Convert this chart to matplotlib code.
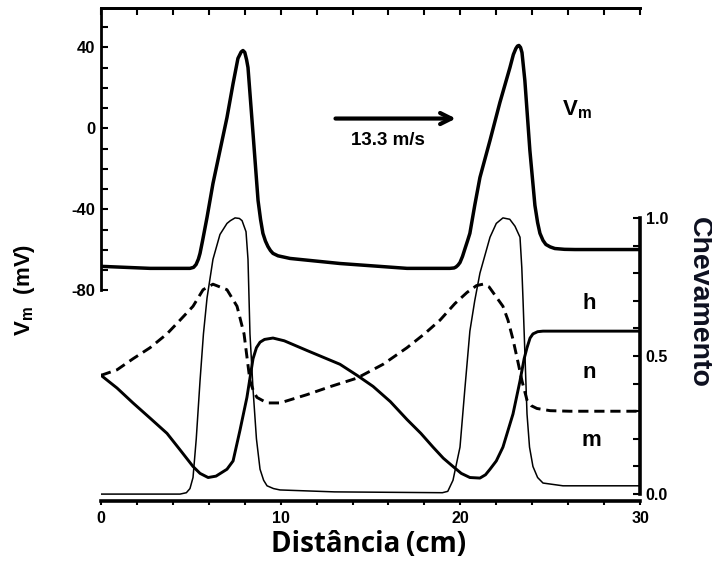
import matplotlib
matplotlib.use("Agg")
import matplotlib.pyplot as plt
import numpy as np
from matplotlib.ticker import FixedLocator, NullFormatter

plt.rcParams["font.family"] = ["Liberation Sans", "DejaVu Sans"]
plt.rcParams["font.weight"] = "bold"

# Membrane potential along the axon (cm, mV)
vm_x = [0.00, 2.73, 4.95, 5.15, 5.29, 5.42, 5.51, 5.65, 5.90, 6.23, 6.62, 7.01, 7.35,
        7.62, 7.80, 7.90, 8.00, 8.10, 8.18, 8.46, 8.74, 8.88, 9.01, 9.15, 9.29, 9.43,
        9.57, 9.85, 10.52, 13.30, 17.03, 19.42, 19.65, 19.76, 19.87, 19.98, 20.12,
        20.26, 20.40, 20.53, 20.80, 21.09, 21.65, 22.20, 22.76, 22.95, 23.09, 23.18,
        23.26, 23.35, 23.43, 23.59, 23.87, 24.15, 24.30, 24.43, 24.60, 24.76, 25.00,
        25.26, 25.80, 26.38, 30.00]
vm_y = [-68.1, -69.1, -69.1, -68.6, -67.2, -64.5, -61.7, -55.5, -43.9, -27.2, -10.9,
        5.4, 22.2, 34.6, 37.8, 38.5, 37.6, 34.0, 30.1, -2.5, -35.6, -45.0, -51.8,
        -55.6, -58.3, -60.3, -61.7, -62.9, -64.2, -66.7, -69.1, -69.1, -68.9, -68.4,
        -67.5, -66.2, -63.2, -59.3, -55.5, -51.8, -38.0, -24.2, -5.9, 12.8, 30.1,
        36.5, 39.5, 40.7, 41.0, 40.0, 37.5, 23.7, -10.9, -38.0, -46.5, -51.8, -55.3,
        -57.3, -58.5, -59.3, -59.7, -59.8, -59.8]

# Gating variable h
h_x = [0.00, 0.89, 1.78, 2.73, 3.67, 4.40, 5.12, 5.51, 5.96, 6.40, 7.01, 7.35, 7.73,
       8.12, 8.46, 8.65, 8.85, 9.10, 9.57, 10.20, 11.46, 13.30, 14.25, 15.14, 16.10,
       17.03, 17.80, 18.48, 19.05, 19.59, 20.05, 20.53, 21.09, 21.40, 21.65, 22.00,
       22.37, 22.93, 23.32, 23.55, 23.71, 23.88, 24.04, 24.30, 24.60, 30.00]
h_y = [0.43, 0.384, 0.33, 0.275, 0.22, 0.16, 0.10, 0.075, 0.06, 0.065, 0.09, 0.12, 0.23,
       0.35, 0.49, 0.53, 0.55, 0.56, 0.565, 0.555, 0.52, 0.47, 0.43, 0.39, 0.335,
       0.27, 0.22, 0.17, 0.13, 0.10, 0.075, 0.06, 0.058, 0.07, 0.09, 0.12,
       0.17, 0.29, 0.41, 0.49, 0.53, 0.565, 0.58, 0.588, 0.59, 0.59]

# Gating variable n
n_x = [0.00, 0.89, 1.78, 2.73, 3.67, 4.40, 5.12, 5.68, 6.23, 7.01, 7.57, 7.96, 8.29,
       8.50, 8.68, 9.24, 9.96, 11.46, 12.80, 14.25, 15.70, 17.03, 18.00, 18.87, 19.70,
       20.37, 20.90, 21.26, 21.60, 21.82, 22.37, 22.65, 22.93, 23.20, 23.43, 23.71,
       23.95, 24.26, 25.00, 26.10, 30.00]
n_y = [0.43, 0.45, 0.49, 0.53, 0.58, 0.63, 0.68, 0.74, 0.76, 0.74, 0.68, 0.58, 0.41,
       0.37, 0.35, 0.33, 0.33, 0.36, 0.39, 0.42, 0.47, 0.53, 0.58, 0.63, 0.69,
       0.73, 0.755, 0.76, 0.75, 0.73, 0.68, 0.63, 0.56, 0.48, 0.41, 0.34,
       0.32, 0.31, 0.302, 0.30, 0.30]

# Gating variable m
m_x = [0.00, 4.40, 4.75, 4.95, 5.12, 5.30, 5.51, 5.70, 5.90, 6.23, 6.62, 7.01, 7.20,
       7.46, 7.70, 7.85, 8.07, 8.18, 8.29, 8.46, 8.65, 8.85, 9.05, 9.24, 9.60, 9.96,
       13.00, 19.00, 19.30, 19.59, 19.98, 20.25, 20.53, 20.80, 21.09, 21.65, 22.00,
       22.37, 22.75, 23.04, 23.32, 23.42, 23.49, 23.71, 23.85, 24.04, 24.30, 24.60,
       25.71, 30.00]
m_y = [0.00, 0.00, 0.005, 0.02, 0.06, 0.20, 0.41, 0.58, 0.71, 0.85, 0.94, 0.98, 0.99,
       1.00, 0.998, 0.99, 0.95, 0.85, 0.58, 0.38, 0.20, 0.09, 0.05, 0.03, 0.02, 0.015,
       0.008, 0.005, 0.01, 0.05, 0.17, 0.38, 0.59, 0.70, 0.80, 0.93, 0.98,
       1.00, 0.995, 0.97, 0.93, 0.82, 0.70, 0.29, 0.17, 0.10, 0.06, 0.04,
       0.03, 0.03]

fig = plt.figure(figsize=(7.12, 5.71), dpi=100)
ax = fig.add_axes([0.1419, 0.1226, 0.757, 0.8634])
ax2 = ax.twinx()

ax.plot(vm_x, vm_y, color="black", lw=2.5, solid_joinstyle="round")
ax2.plot(h_x, h_y, color="black", lw=2.1, solid_joinstyle="round")
ax2.plot(n_x, n_y, color="black", lw=2.1, dashes=(3.5, 2))
ax2.plot(m_x, m_y, color="black", lw=1.1, solid_joinstyle="round")

ax.set_xlim(0, 30)
ax.set_ylim(-184, 59.5)
ax2.set_ylim(-0.025, 1.76)

# spines: partial left (Vm) and right (gating) axes
ax.spines["right"].set_visible(False)
ax.spines["left"].set_bounds(-80, 59.5)
ax.spines["left"].set_linewidth(2)
ax.spines["top"].set_linewidth(2)
ax.spines["bottom"].set_linewidth(2.6)
for s in ["left", "top", "bottom"]:
    ax2.spines[s].set_visible(False)
ax2.spines["right"].set_bounds(0, 1.0)
ax2.spines["right"].set_linewidth(2.6)

ax.set_yticks([-80, -40, 0, 40])
ax.set_yticklabels(["-80", "-40", "0", "40"])
ax.yaxis.set_minor_locator(FixedLocator(np.arange(-80, 60, 10)))
ax.tick_params(axis="y", which="both", direction="in", length=5, width=1.5,
               labelsize=12, pad=4)

ax.set_xticks([0, 10, 20, 30])
ax.xaxis.set_minor_locator(FixedLocator(np.arange(0, 31, 2)))
ax.tick_params(axis="x", which="both", direction="out", length=3, width=1.5,
               labelsize=11.5, pad=4)

top = ax.secondary_xaxis("top")
top.set_xticks(np.arange(0, 31, 2))
top.xaxis.set_major_formatter(NullFormatter())
top.tick_params(direction="in", length=5, width=1.5)
top.spines["top"].set_linewidth(2)

ax2.set_yticks([0, 0.5, 1.0])
ax2.set_yticklabels(["0.0", "0.5", "1.0"])
ax2.yaxis.set_minor_locator(FixedLocator(np.arange(0, 1.01, 0.1)))
ax2.tick_params(axis="y", which="both", direction="in", length=5, width=1.5,
                labelsize=11.5, pad=4)

for lab in ax.get_xticklabels() + ax.get_yticklabels() + ax2.get_yticklabels():
    lab.set_fontweight("bold")

# axis titles
fig.text(0.035, 0.492, r"V$_\mathregular{m}$  (mV)", rotation=90, ha="center",
         va="center", fontsize=16, fontweight="bold")
fig.text(0.981, 0.471, "Chevamento", rotation=-90, ha="center", va="center",
         fontsize=20.5, fontweight="bold", color="#0d1020")
fig.text(0.518, 0.046, "Distância\u2009(cm)", ha="center", va="center",
         fontsize=20, fontweight="bold", family=["Open Sans", "DejaVu Sans"])

# propagation direction and speed
ax.annotate("", xy=(19.75, 4.9), xytext=(13.05, 4.9),
            arrowprops=dict(arrowstyle="->,head_length=0.8,head_width=0.4",
                            lw=3, color="black", shrinkA=0, shrinkB=0))
ax.text(15.97, -5.9, "13.3 m/s", ha="center", va="center", fontsize=13.5,
        fontweight="bold")
ax.text(25.65, 6.4, r"V$_\mathregular{m}$", ha="left", va="baseline",
        fontsize=16, fontweight="bold")

# curve labels
ax2.text(27.2, 0.69, "h", ha="center", va="center", fontsize=16, fontweight="bold")
ax2.text(27.2, 0.44, "n", ha="center", va="center", fontsize=16, fontweight="bold")
ax2.text(27.3, 0.195, "m", ha="center", va="center", fontsize=16, fontweight="bold")

fig.savefig("out.png", dpi=100)
